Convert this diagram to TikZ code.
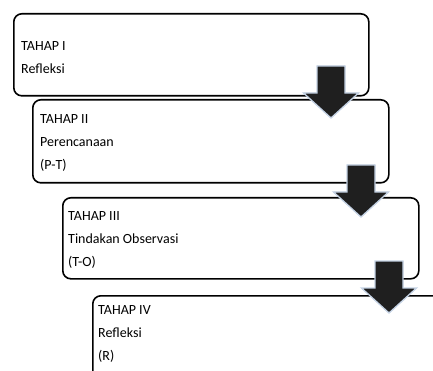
\documentclass[tikz,border=0pt]{standalone}
\usepackage{fontspec}
\setmainfont{Carlito}
\usetikzlibrary{calc}
\definecolor{arrowfill}{HTML}{1F1F1F}
\definecolor{arrowedge}{HTML}{C4D2E4}
\tikzset{
  stagebox/.style={draw=black, line width=1.6pt, rounded corners=8pt, rectangle, anchor=north west, inner sep=0pt},
  stagetext/.style={anchor=west, align=left, font=\fontsize{14}{23}\selectfont, inner sep=0pt},
  arrowstyle/.style={fill=arrowfill, draw=arrowedge, line width=1.3pt, line join=miter},
  downarrow/.pic={\filldraw[arrowstyle] (-14,-27) -- (14,-27) -- (14,0) -- (27.5,0) -- (0,25) -- (-27.5,0) -- (-14,0) -- cycle;}
}
\begin{document}
\begin{tikzpicture}[x=1pt,y=-1pt]
\useasboundingbox (0,0) rectangle (433,371);
\clip (0,0) rectangle (433,371);
% boxes
\node[stagebox, minimum width=355pt, minimum height=82pt] (b1) at (13,13) {};
\node[stagebox, minimum width=356pt, minimum height=83pt] (b2) at (32,99) {};
\node[stagebox, minimum width=356pt, minimum height=81pt] (b3) at (62,197) {};
\node[stagebox, minimum width=380pt, minimum height=90pt] (b4) at (92,295) {};
% texts
\node[stagetext] (t1) at ($(b1.west)+(8,3)$) {TAHAP I\\Refleksi};
\node[stagetext] (t2) at ($(b2.west)+(8,2)$) {TAHAP II\\Perencanaan\\(P-T)};
\node[stagetext] (t3) at ($(b3.west)+(6,2)$) {TAHAP III\\Tindakan Observasi\\(T-O)};
\node[stagetext, anchor=north west] (t4) at ($(b4.north west)+(6,10)$) {TAHAP IV\\Refleksi\\(R)};
% arrows
\coordinate (a1) at (331,93);
\coordinate (a2) at (361,192);
\coordinate (a3) at (389,288);
\pic at (a1) {downarrow};
\pic at (a2) {downarrow};
\pic at (a3) {downarrow};
\end{tikzpicture}
\end{document}
